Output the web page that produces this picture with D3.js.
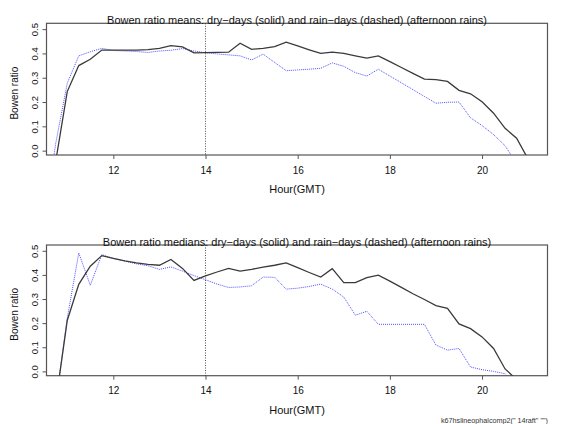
<!DOCTYPE html>
<html>
<head>
<meta charset="utf-8">
<script src="https://cdn.jsdelivr.net/npm/d3@7"></script>
<style>
    body { margin: 0; background: #fff; }
    svg { font-family: "Liberation Sans", Arial, sans-serif; }
</style>
</head>
<body>
<svg id="chart"></svg>
<script>
// hours (GMT), every 15 minutes
let hours = [10.5, 10.75, 11, 11.25, 11.5, 11.75, 12, 12.25, 12.5, 12.75, 13, 13.25, 13.5, 13.75,
    14, 14.25, 14.5, 14.75, 15, 15.25, 15.5, 15.75, 16, 16.25, 16.5, 16.75, 17, 17.25, 17.5, 17.75,
    18, 18.25, 18.5, 18.75, 19, 19.25, 19.5, 19.75, 20, 20.25, 20.5, 20.75, 21];

let meansDry = [-0.3, -0.044, 0.243, 0.35, 0.376, 0.414, 0.414, 0.414, 0.414, 0.416, 0.421, 0.432, 0.427, 0.402,
    0.403, 0.404, 0.405, 0.442, 0.417, 0.421, 0.428, 0.446, 0.431, 0.415, 0.40, 0.405, 0.40, 0.39, 0.381, 0.39,
    0.366, 0.342, 0.318, 0.294, 0.292, 0.285, 0.248, 0.234, 0.201, 0.154, 0.092, 0.051, -0.035];
let meansRain = [-0.3, 0.03, 0.277, 0.39, 0.407, 0.421, 0.412, 0.41, 0.408, 0.404, 0.41, 0.413, 0.42, 0.41,
    0.403, 0.398, 0.394, 0.39, 0.373, 0.397, 0.363, 0.329, 0.332, 0.335, 0.339, 0.361, 0.347, 0.321, 0.307, 0.335,
    0.307, 0.279, 0.251, 0.223, 0.195, 0.199, 0.20, 0.135, 0.103, 0.066, 0.02, -0.053, -0.2];

let mediansDry = [-0.4, -0.13, 0.211, 0.361, 0.436, 0.48, 0.469, 0.458, 0.45, 0.444, 0.44, 0.464, 0.427, 0.377,
    0.396, 0.412, 0.427, 0.416, 0.423, 0.432, 0.44, 0.45, 0.43, 0.41, 0.391, 0.426, 0.368, 0.368, 0.389, 0.399,
    0.374, 0.348, 0.322, 0.298, 0.273, 0.261, 0.197, 0.177, 0.143, 0.095, 0.01, -0.034, -0.2];
let mediansRain = [-0.4, -0.13, 0.22, 0.491, 0.357, 0.484, 0.468, 0.457, 0.446, 0.438, 0.423, 0.433, 0.416, 0.397,
    0.38, 0.362, 0.348, 0.35, 0.355, 0.391, 0.39, 0.341, 0.345, 0.352, 0.362, 0.341, 0.308, 0.233, 0.249, 0.195,
    0.195, 0.195, 0.195, 0.195, 0.109, 0.088, 0.095, 0.018, 0.007, 0.0, -0.01, -0.06, -0.2];

let xTicks = [12, 14, 16, 18, 20];
let yTicks = [0.0, 0.1, 0.2, 0.3, 0.4, 0.5];
let splitHour = 14;

let titles = [
    'Bowen ratio means: dry\u2212days (solid) and rain\u2212days (dashed) (afternoon rains)',
    'Bowen ratio medians: dry\u2212days (solid) and rain\u2212days (dashed) (afternoon rains)'
];
let footer = 'k67hslineophalcomp2(" 14raft" "")';

let width = 563;
let height = 424;
let config = {
    left: 46.5,
    right: 547.5,
    panels: [{top: 23.3, bottom: 155}, {top: 245, bottom: 375.7}]
};

let svg = d3.select('#chart')
    .attr('width', width)
    .attr('height', height);

let xScale = d3.scaleLinear()
    .domain([10.55, 21.42])
    .range([config.left, config.right]);

// fit the title font so the first title spans ~380px like the original
let probe = svg.append('text').attr('font-size', 11).text(titles[0]);
let titleSize = 11 * 380 / probe.node().getComputedTextLength();
probe.remove();

function drawPanel(i, dry, rain) {
    let p = config.panels[i];
    let yScale = d3.scaleLinear()
        .domain([-0.018, 0.524])
        .range([p.bottom, p.top]);
    let g = svg.append('g');

    g.append('defs').append('clipPath')
        .attr('id', 'clip' + i)
        .append('rect')
        .attr('x', config.left)
        .attr('y', p.top)
        .attr('width', config.right - config.left)
        .attr('height', p.bottom - p.top);

    // x axis
    let xAx = d3.axisBottom(xScale)
        .tickValues(xTicks)
        .tickSize(4)
        .tickFormat(d3.format('d'));
    let xAxGroup = g.append('g')
        .attr('transform', `translate(0,${p.bottom})`)
        .call(xAx);
    xAxGroup.select('.domain').remove();
    xAxGroup.selectAll('line').attr('stroke', '#555');
    xAxGroup.selectAll('text')
        .attr('y', 18.5)
        .attr('dy', null)
        .attr('font-size', 10)
        .attr('font-family', null)
        .attr('fill', '#111');

    // y axis
    let yAx = d3.axisLeft(yScale)
        .tickValues(yTicks)
        .tickSize(4)
        .tickFormat(d3.format('.1f'));
    let yAxGroup = g.append('g')
        .attr('transform', `translate(${config.left},0)`)
        .call(yAx);
    yAxGroup.select('.domain').remove();
    yAxGroup.selectAll('line').attr('stroke', '#555');
    yAxGroup.selectAll('text')
        .attr('x', null)
        .attr('dy', null)
        .attr('transform', 'translate(-9,0) rotate(-90)')
        .attr('text-anchor', 'middle')
        .attr('font-size', 9.5)
        .attr('font-family', null)
        .attr('fill', '#111');

    // box
    g.append('rect')
        .attr('x', config.left)
        .attr('y', p.top)
        .attr('width', config.right - config.left)
        .attr('height', p.bottom - p.top)
        .attr('fill', 'none')
        .attr('stroke', '#555')
        .attr('stroke-width', 1.2);

    // vertical dotted line at 14 GMT
    g.append('line')
        .attr('x1', xScale(splitHour))
        .attr('x2', xScale(splitHour))
        .attr('y1', p.top)
        .attr('y2', p.bottom)
        .attr('stroke', '#222')
        .attr('stroke-width', 0.8)
        .attr('stroke-dasharray', '1,1.5');

    let line = d3.line()
        .x(d => xScale(d[0]))
        .y(d => yScale(d[1]));
    let lines = g.append('g').attr('clip-path', `url(#clip${i})`);
    lines.append('path')
        .datum(d3.zip(hours, rain))
        .attr('d', line)
        .attr('fill', 'none')
        .attr('stroke', '#4f4fff')
        .attr('stroke-width', 1)
        .attr('stroke-dasharray', '1,1');
    lines.append('path')
        .datum(d3.zip(hours, dry))
        .attr('d', line)
        .attr('fill', 'none')
        .attr('stroke', '#3a3a3a')
        .attr('stroke-width', 1.3);

    // labels
    g.append('text')
        .attr('x', (config.left + config.right) / 2)
        .attr('y', p.top + 0.8)
        .attr('text-anchor', 'middle')
        .attr('font-size', titleSize)
        .attr('fill', '#111')
        .text(titles[i]);
    g.append('text')
        .attr('x', 297)
        .attr('y', p.bottom + 38)
        .attr('text-anchor', 'middle')
        .attr('font-size', 11)
        .attr('fill', '#111')
        .text('Hour(GMT)');
    g.append('text')
        .attr('transform', `translate(17.5,${(p.top + p.bottom) / 2 + 4}) rotate(-90)`)
        .attr('text-anchor', 'middle')
        .attr('font-size', 10)
        .attr('fill', '#111')
        .text('Bowen ratio');
}

drawPanel(0, meansDry, meansRain);
drawPanel(1, mediansDry, mediansRain);

svg.append('text')
    .attr('x', 441)
    .attr('y', 422.5)
    .attr('font-size', 7.2)
    .attr('fill', '#333')
    .text(footer);
</script>
</body>
</html>
